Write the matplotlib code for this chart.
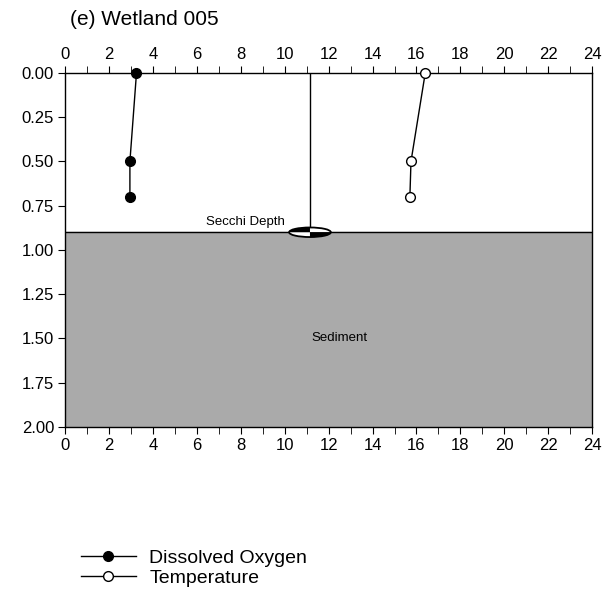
import matplotlib.pyplot as plt
import numpy as np
from matplotlib.patches import Polygon, Ellipse

plt.rcParams['font.family'] = ['Liberation Sans', 'DejaVu Sans']

# profile data
do_vals = [3.25, 2.95, 2.95]
do_depth = [0.0, 0.5, 0.7]
temp_vals = [16.4, 15.75, 15.7]
temp_depth = [0.0, 0.5, 0.7]
secchi_x = 11.15
secchi_depth = 0.9
bottom_depth = 2.0

fig = plt.figure(figsize=(6.03, 5.96), dpi=100)
ax = fig.add_axes([0.108, 0.2836, 0.874, 0.594])

ax.fill_between([0, 24], secchi_depth, bottom_depth, color='#aaaaaa', zorder=0)
ax.axhline(secchi_depth, color='black', lw=1, zorder=1)
ax.plot([secchi_x, secchi_x], [0, secchi_depth], color='black', lw=1, zorder=1)

# secchi disk
w, h = 0.95, 0.027
t = np.linspace(0, np.pi / 2, 30)
for k, col in enumerate(['white', 'black', 'white', 'black']):
    tt = t + k * np.pi / 2
    pts = np.column_stack([secchi_x + w * np.cos(tt), secchi_depth - h * np.sin(tt)])
    pts = np.vstack([[secchi_x, secchi_depth], pts])
    ax.add_patch(Polygon(pts, closed=True, facecolor=col, edgecolor='none', zorder=3))
ax.add_patch(Ellipse((secchi_x, secchi_depth), 2 * w, 2 * h, facecolor='none',
                     edgecolor='black', lw=1.3, zorder=4))

ax.plot(do_vals, do_depth, '-o', color='black', mfc='black', ms=7, lw=1,
        label='Dissolved Oxygen', zorder=5, clip_on=False)
ax.plot(temp_vals, temp_depth, '-o', color='black', mfc='white', ms=7, lw=1,
        label='Temperature', zorder=5, clip_on=False)

ax.text(10.0, 0.875, 'Secchi Depth', fontsize=9.5, ha='right', va='bottom')
ax.text(12.5, 1.5, 'Sediment', fontsize=9.5, ha='center', va='center')

ax.set_xlim(0, 24)
ax.set_ylim(bottom_depth, 0)
ax.set_xticks(np.arange(0, 25, 2))
ax.set_xticks(np.arange(0, 25, 1), minor=True)
ax.set_yticks(np.arange(0, 2.01, 0.25))
ax.set_yticklabels(['%.2f' % v for v in np.arange(0, 2.01, 0.25)])
ax.tick_params(axis='x', which='both', top=True, labeltop=True, bottom=True,
               labelbottom=True, direction='out', length=5, labelsize=12, pad=3)
ax.tick_params(axis='y', direction='out', length=5, labelsize=12, pad=3)
for s in ax.spines.values():
    s.set_linewidth(1)

fig.text(0.116, 0.968, '(e) Wetland 005', fontsize=15, ha='left', va='center')

h1, l1 = ax.get_legend_handles_labels()
fig.legend(h1, l1, loc='lower left', bbox_to_anchor=(0.112, -0.008), frameon=False,
           fontsize=14, handlelength=2.8, handletextpad=0.7, labelspacing=0.12,
           borderpad=0.2)

fig.savefig('out.png', dpi=100)
